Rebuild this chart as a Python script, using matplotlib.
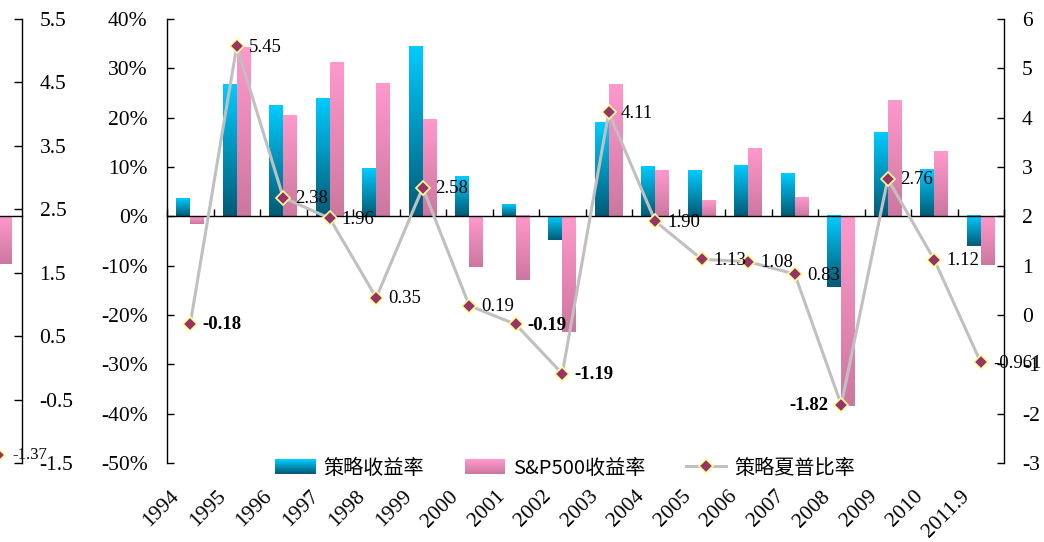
import numpy as np
import matplotlib
matplotlib.use("Agg")
import matplotlib.pyplot as plt
import matplotlib.transforms as mtransforms
from matplotlib.patches import Rectangle
from matplotlib.lines import Line2D
from matplotlib.colors import LinearSegmentedColormap, to_rgb
from matplotlib.legend_handler import HandlerBase
from matplotlib.font_manager import FontProperties

# ---- data -------------------------------------------------------------
years = ["1994", "1995", "1996", "1997", "1998", "1999", "2000", "2001", "2002",
         "2003", "2004", "2005", "2006", "2007", "2008", "2009", "2010", "2011.9"]
strategy_ret = [3.5, 26.7, 22.4, 23.8, 9.6, 34.4, 8.0, 2.3, -4.8,
                19.0, 10.0, 9.2, 10.3, 8.6, -14.4, 16.9, 9.4, -6.1]
sp500_ret = [-1.5, 34.2, 20.4, 31.2, 26.9, 19.6, -10.2, -13.0, -23.4,
             26.7, 9.2, 3.1, 13.7, 3.8, -38.4, 23.5, 13.1, -9.8]
sharpe = [-0.18, 5.45, 2.38, 1.96, 0.35, 2.58, 0.19, -0.19, -1.19,
          4.11, 1.90, 1.13, 1.08, 0.83, -1.82, 2.76, 1.12, -0.961]
sharpe_text = ["-0.18", "5.45", "2.38", "1.96", "0.35", "2.58", "0.19", "-0.19", "-1.19",
               "4.11", "1.90", "1.13", "1.08", "0.83", "-1.82", "2.76", "1.12", "-0.961"]
bold_labels = ["-0.18", "-0.19", "-1.19", "-1.82"]
left_labels = ["-1.82"]

pct_ticks = [-50, -40, -30, -20, -10, 0, 10, 20, 30, 40]
ratio_ticks = [-3, -2, -1, 0, 1, 2, 3, 4, 5, 6]

# neighbouring panel on the left edge
prev_sp500 = [-9.7]
prev_sharpe = [-1.37]
prev_ticks = [-1.5, -0.5, 0.5, 1.5, 2.5, 3.5, 4.5, 5.5]

legend_labels = ["策略收益率", "S&P500收益率", "策略夏普比率"]

# ---- style ------------------------------------------------------------
plt.rcParams["font.family"] = ["Liberation Serif", "Noto Sans CJK SC"]
plt.rcParams["axes.unicode_minus"] = False

BLUE_TOP, BLUE_BOT = "#00CCFF", "#005A75"
PINK_TOP, PINK_BOT = "#FF99CC", "#CC779F"
LINE_C = "#C0C0C0"
MARK_FACE, MARK_EDGE = "#993366", "#FFFF99"

W, H = 1044, 542
fig = plt.figure(figsize=(W / 100, H / 100), dpi=100)


def px_rect(left, top, right, bottom):
    return [left / W, 1 - bottom / H, (right - left) / W, (bottom - top) / H]


def gradient_bars(ax, bars, top, bottom):
    cmap = LinearSegmentedColormap.from_list("g", [bottom, top])
    grad = np.linspace(0, 1, 256).reshape(-1, 1)
    for bar in bars:
        x0, y0 = bar.get_xy()
        w, h = bar.get_width(), bar.get_height()
        lo, hi = sorted([y0, y0 + h])
        ax.imshow(grad, cmap=cmap, extent=[x0, x0 + w, lo, hi], origin="lower",
                  aspect="auto", interpolation="bilinear", zorder=2)
        bar.set_facecolor("none")
        bar.set_edgecolor("none")


class GradientHandler(HandlerBase):
    def __init__(self, top, bottom, n=24):
        super().__init__()
        self.top = np.array(to_rgb(top))
        self.bottom = np.array(to_rgb(bottom))
        self.n = n

    def create_artists(self, legend, orig_handle, xdescent, ydescent,
                       width, height, fontsize, trans):
        arts = []
        for i in range(self.n):
            f = (i + 0.5) / self.n
            c = self.bottom + (self.top - self.bottom) * f
            arts.append(Rectangle((-xdescent, -ydescent + height * i / self.n),
                                  width, height / self.n * 1.05, facecolor=c,
                                  edgecolor="none", transform=trans))
        return arts


def style_line(ax, x, y):
    ax.plot(x, y, color=LINE_C, lw=2.2, marker="D", ms=7.5, mfc=MARK_FACE,
            mec=MARK_EDGE, mew=1.2, zorder=4, solid_joinstyle="miter")


# ---- main chart -------------------------------------------------------
ax = fig.add_axes(px_rect(167, 19, 1004, 463))
x = np.arange(len(years))
b1 = ax.bar(x - 0.15, strategy_ret, width=0.3)
b2 = ax.bar(x + 0.15, sp500_ret, width=0.3)
gradient_bars(ax, b1, BLUE_TOP, BLUE_BOT)
gradient_bars(ax, b2, PINK_TOP, PINK_BOT)

ax.set_xlim(-0.5, len(years) - 0.5)
ax.set_ylim(-50, 40)
ax.set_yticks(pct_ticks)
ax.set_yticklabels([f"{v}%" for v in pct_ticks])
ax.set_xticks(np.arange(len(years) + 1) - 0.5)
ax.set_xticklabels([])
for s in ["top", "right"]:
    ax.spines[s].set_visible(False)
ax.spines["bottom"].set_position(("data", 0))
ax.spines["left"].set_linewidth(1.0)
ax.spines["bottom"].set_linewidth(1.0)
ax.tick_params(axis="y", direction="in", length=5, width=1.0, pad=14, labelsize=15.5)
ax.tick_params(axis="x", direction="in", length=5, width=1.0)

ax2 = ax.twinx()
ax2.set_ylim(-3, 6)
ax2.set_yticks(ratio_ticks)
ax2.set_yticklabels([str(v) for v in ratio_ticks])
for s in ["top", "left", "bottom"]:
    ax2.spines[s].set_visible(False)
ax2.spines["right"].set_linewidth(1.0)
ax2.tick_params(axis="y", direction="in", length=5, width=1.0, pad=13, labelsize=15.5)
style_line(ax2, x, sharpe)

for xi, yi, t in zip(x, sharpe, sharpe_text):
    weight = "bold" if t in bold_labels else "normal"
    if t in left_labels:
        ax2.annotate(t, (xi, yi), xytext=(-13, -1), textcoords="offset pixels",
                     ha="right", va="center", fontsize=13.5, fontweight=weight, zorder=5)
    else:
        ax2.annotate(t, (xi, yi), xytext=(12, -1), textcoords="offset pixels",
                     ha="left", va="center", fontsize=13.5, fontweight=weight, zorder=5)

# rotated year labels below the plot
lab_tr = (mtransforms.blended_transform_factory(ax.transData, fig.transFigure)
          + mtransforms.ScaledTranslation(-0.07, 0, fig.dpi_scale_trans))
for xi, yr in zip(x, years):
    ax.text(xi, 1 - 487 / H, yr, transform=lab_tr, rotation=45, ha="right",
            va="top", fontsize=15.5, clip_on=False)

# legend
h_blue = Rectangle((0, 0), 1, 1)
h_pink = Rectangle((0, 0), 1, 1)
h_line = Line2D([], [], color=LINE_C, lw=2.2, marker="D", ms=7.5, mfc=MARK_FACE,
                mec=MARK_EDGE, mew=1.2)
fig.legend([h_blue, h_pink, h_line], legend_labels,
           handler_map={h_blue: GradientHandler(BLUE_TOP, BLUE_BOT),
                        h_pink: GradientHandler(PINK_TOP, PINK_BOT)},
           loc="center", bbox_to_anchor=(565 / W, 1 - 468 / H),
           bbox_transform=fig.transFigure, ncol=3, frameon=False,
           prop=FontProperties(family=["Noto Sans CJK SC"], size=14.5),
           handlelength=2.0, handleheight=0.7, handletextpad=0.4,
           columnspacing=2.0, numpoints=1)

# ---- neighbouring panel at the left edge --------------------------------
axf = fig.add_axes(px_rect(-100, 19, 21.5, 463))
axf.set_xlim(-2.108, 0.505)
axf.set_ylim(-50, 40)
bf = axf.bar([0.15], prev_sp500, width=0.3)
gradient_bars(axf, bf, PINK_TOP, PINK_BOT)
axf.set_xlim(-2.108, 0.505)
axf.set_ylim(-50, 40)
for s in ["top", "right", "left"]:
    axf.spines[s].set_visible(False)
axf.spines["bottom"].set_position(("data", 0))
axf.spines["bottom"].set_linewidth(1.0)
axf.set_xticks([])
axf.set_yticks([])
axf.patch.set_alpha(0)

axf2 = axf.twinx()
axf2.set_ylim(-1.5, 5.5)
axf2.set_yticks(prev_ticks)
axf2.set_yticklabels([f"{v:.1f}" for v in prev_ticks])
for s in ["top", "left", "bottom"]:
    axf2.spines[s].set_visible(False)
axf2.spines["right"].set_linewidth(1.0)
axf2.tick_params(axis="y", direction="in", length=6, width=1.0, pad=13, labelsize=15.5)
style_line(axf2, [0], prev_sharpe)
axf2.annotate(f"{prev_sharpe[0]:.2f}", (0, prev_sharpe[0]), xytext=(14, 0),
              textcoords="offset pixels", ha="left", va="center", fontsize=12)

fig.savefig("out.png", dpi=100)
